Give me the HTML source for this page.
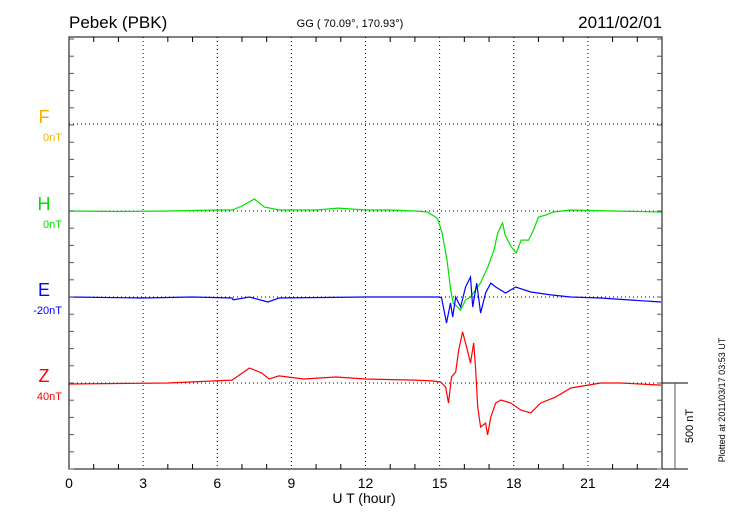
<!DOCTYPE html>
<html><head><meta charset="utf-8"><style>
body{margin:0;background:#fff;}
svg text{font-family:"Liberation Sans",sans-serif;}
</style></head><body>
<svg id="c" width="730" height="520" viewBox="0 0 730 520" xmlns="http://www.w3.org/2000/svg">
<text x="69" y="28" font-size="17">Pebek (PBK)</text>
<text x="350" y="27" font-size="11" text-anchor="middle">GG ( 70.09°, 170.93°)</text>
<text x="662" y="28" font-size="17" text-anchor="end">2011/02/01</text>
<text x="364" y="503" font-size="14" text-anchor="middle">U T (hour)</text>
<text transform="translate(725,400) rotate(-90)" font-size="9" text-anchor="middle">Plotted at 2011/03/17 03:53 UT</text>
<text transform="translate(693,426) rotate(-90)" font-size="11" text-anchor="middle">500 nT</text>
<g id="grid"></g><g id="series"></g><g id="axes"></g>
</svg>
<script>
const hTimes=[0,2,4,6,6.6,7.0,7.5,7.9,8.5,9,10,10.9,12,13,14,14.5,14.9,15.0,15.1,15.3,15.45,15.55,15.85,16.05,16.25,16.45,16.65,16.95,17.2,17.35,17.55,17.65,17.9,18.1,18.3,18.6,18.8,19.0,19.3,19.6,20.3,22,24];
const hValues=[0,-3,0,6,6,29,70,23,6,6,6,17,6,6,0,-6,-41,-81,-128,-285,-459,-535,-576,-517,-500,-459,-419,-326,-227,-128,-70,-140,-209,-244,-169,-169,-110,-35,-23,-6,6,0,-6];
const eTimes=[0,3,5,6.6,6.65,7.3,8.05,8.5,12,15,15.08,15.28,15.44,15.53,15.65,15.85,16.05,16.25,16.34,16.5,16.66,16.86,17.07,17.27,17.67,18.08,18.69,19.5,20.3,21.5,23.96];
const eValues=[0,-6,0,-6,-17,0,-29,-6,0,0,-6,-151,-35,-116,0,-58,58,116,-58,81,-93,23,81,58,23,58,29,12,0,-6,-29];
const zTimes=[0,4,6.6,7.3,7.8,8.1,8.5,9.5,10.8,12,14,14.7,15.04,15.24,15.36,15.48,15.65,15.77,15.93,16.09,16.25,16.38,16.46,16.54,16.66,16.86,16.94,17.07,17.27,17.47,17.88,18.28,18.69,19.09,19.7,20.31,21.52,22.33,23.96];
const zValues=[-6,0,17,87,58,23,41,23,35,23,17,12,6,-23,-116,35,64,192,297,209,116,233,76,-140,-256,-233,-302,-198,-116,-99,-116,-157,-174,-116,-81,-29,0,0,-12];
const xTickLabels=["0","3","6","9","12","15","18","21","24"];
const compNames=["F","H","E","Z"];
const compOffsets=["0nT","0nT","-20nT","40nT"];
const compColors=["#f5b000","#00e000","#0000ff","#ff0000"];

const L=69,R=662,T=37,B=469,NS="http://www.w3.org/2000/svg";
const bases=[124,211,297,383];
const pxPerNT=86/500;
const xs=h=>L+(R-L)*h/24;
const ys=(v,i)=>bases[i]-v*pxPerNT;
function mk(tag,attrs,parent){const e=document.createElementNS(NS,tag);for(const k in attrs)e.setAttribute(k,attrs[k]);parent.appendChild(e);return e;}
const grid=document.getElementById('grid'),ser=document.getElementById('series'),ax=document.getElementById('axes');
for(let h=3;h<24;h+=3){const g=mk('line',{x1:xs(h),x2:xs(h),y1:T,y2:B,stroke:'#000','stroke-width':1,'stroke-dasharray':'1,3'},grid);

}
bases.forEach((b,i)=>{const g=mk('line',{x1:L,x2:R,y1:b,y2:b,stroke:'#000','stroke-width':1,'stroke-dasharray':'1,3'},grid);

});
[[hTimes,hValues,1],[eTimes,eValues,2],[zTimes,zValues,3]].forEach(([t,v,i])=>{
const p=mk('polyline',{points:t.map((h,k)=>xs(h).toFixed(1)+','+ys(v[k],i).toFixed(1)).join(' '),fill:'none',stroke:compColors[i],'stroke-width':1.2},ser);

});
const fr=mk('rect',{x:L,y:T,width:R-L,height:B-T,fill:'none',stroke:'#000','stroke-width':1},ax);


for(let h=0;h<=24;h++){const len=h%3==0?0:5;
if(len){mk('line',{x1:xs(h),x2:xs(h),y1:T,y2:T+len,stroke:'#000'},ax);mk('line',{x1:xs(h),x2:xs(h),y1:B,y2:B-len,stroke:'#000'},ax);}}
xTickLabels.forEach((s,k)=>{const t=mk('text',{x:xs(k*3),y:488,'font-size':14,'text-anchor':'middle'},ax);t.textContent=s;

});
for(let y=B;y>=T;y-=17.2){mk('line',{x1:L,x2:L+5,y1:y,y2:y,stroke:'#555'},ax);mk('line',{x1:R,x2:R-5,y1:y,y2:y,stroke:'#555'},ax);}
compNames.forEach((n,i)=>{const t=mk('text',{x:44,y:bases[i]-1,'font-size':18,'text-anchor':'middle',fill:compColors[i]},ax);t.textContent=n;


const o=mk('text',{x:62,y:bases[i]+17,'font-size':11,'text-anchor':'end',fill:compColors[i]},ax);o.textContent=compOffsets[i];

});
const sb=mk('g',{},ax);


mk('line',{x1:R,x2:688,y1:383,y2:383,stroke:'#000'},sb);
mk('line',{x1:R,x2:688,y1:B,y2:B,stroke:'#000'},sb);
mk('line',{x1:675,x2:675,y1:383,y2:B,stroke:'#555'},sb);
</script>
</body></html>
